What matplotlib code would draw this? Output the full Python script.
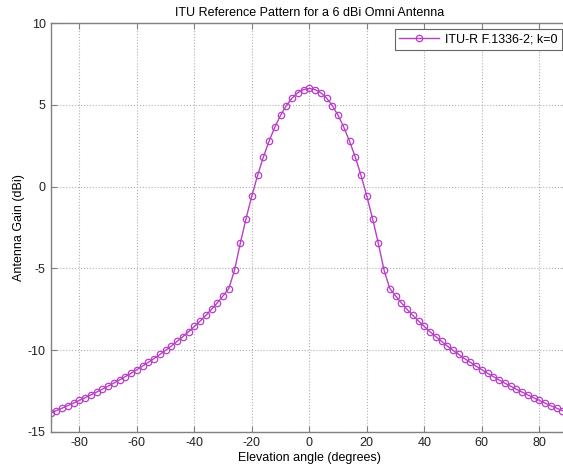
import numpy as np
import matplotlib
matplotlib.use("Agg")
import matplotlib.pyplot as plt

plt.rcParams['font.family'] = ['Liberation Sans', 'DejaVu Sans']
plt.rcParams['axes.unicode_minus'] = False

# elevation angles (deg) and gain (dBi)
angles = np.arange(-90, 92, 2)
gain = [-13.84, -13.69, -13.54, -13.39, -13.23, -13.07, -12.90, -12.73, -12.56, -12.38,
        -12.20, -12.01, -11.82, -11.61, -11.41, -11.19, -10.97, -10.74, -10.51, -10.26,
        -10.01, -9.74, -9.46, -9.17, -8.87, -8.55, -8.22, -7.87, -7.50, -7.10,
        -6.68, -6.23, -5.10, -3.46, -1.95, -0.57, 0.68, 1.80, 2.78, 3.63,
        4.36, 4.95, 5.41, 5.74, 5.93, 6.00, 5.93, 5.74, 5.41, 4.95,
        4.36, 3.63, 2.78, 1.80, 0.68, -0.57, -1.95, -3.46, -5.10, -6.23,
        -6.68, -7.10, -7.50, -7.87, -8.22, -8.55, -8.87, -9.17, -9.46, -9.74,
        -10.01, -10.26, -10.51, -10.74, -10.97, -11.19, -11.41, -11.61, -11.82, -12.01,
        -12.20, -12.38, -12.56, -12.73, -12.90, -13.07, -13.23, -13.39, -13.54, -13.69,
        -13.84]
x_ticks = [-80, -60, -40, -20, 0, 20, 40, 60, 80]
y_ticks = [-15, -10, -5, 0, 5, 10]

fig = plt.figure(figsize=(5.63, 4.70), dpi=100)
ax = fig.add_axes([50.6 / 563, 38 / 470, (568 - 50.6) / 563, 409 / 470])

col = '#b83ec8'
ax.plot(angles, gain, '-', color=col, lw=1.0, marker='o', ms=4.6,
        mfc='none', mec=col, mew=0.9, label='ITU-R F.1336-2; k=0')

ax.set_xlim(-90, 90)
ax.set_ylim(-15, 10)
ax.set_xticks(x_ticks)
ax.set_yticks(y_ticks)
ax.grid(True, ls=':', color='#b0b0b0', lw=0.8)
ax.tick_params(direction='in', top=True, right=True, labelsize=9,
               color='#808080', length=4, labelcolor='#222222')
for s in ax.spines.values():
    s.set_color('#808080')
    s.set_linewidth(1.0)

ax.set_title('ITU Reference Pattern for a 6 dBi Omni Antenna', fontsize=9, pad=5)
ax.set_xlabel('Elevation angle (degrees)', fontsize=9, labelpad=2)
ax.set_ylabel('Antenna Gain (dBi)', fontsize=9, labelpad=2)

leg = ax.legend(loc='upper right', bbox_to_anchor=(562 / 563, 1 - 29 / 470),
                bbox_transform=fig.transFigure, fontsize=9, fancybox=False,
                framealpha=1, borderaxespad=0, handlelength=3.2,
                borderpad=0.35, handletextpad=0.5)
leg.get_frame().set_edgecolor('#666666')
leg.get_frame().set_linewidth(0.8)

fig.savefig('out.png', dpi=100)
